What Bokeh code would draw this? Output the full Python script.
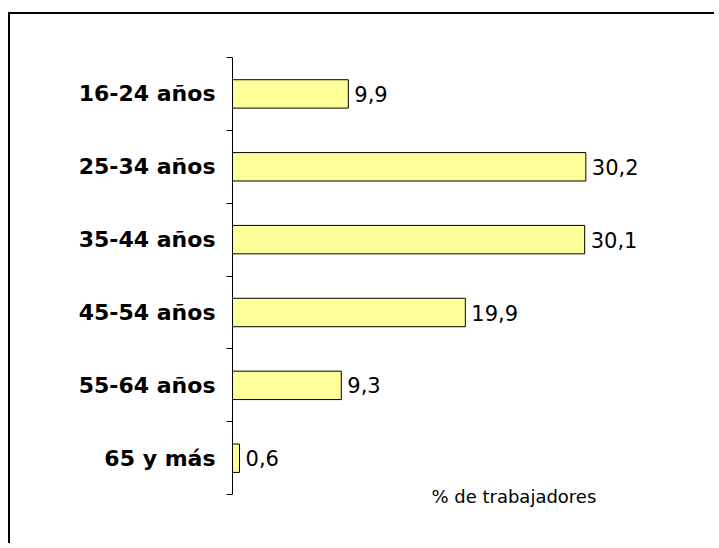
from bokeh.plotting import figure
from bokeh.models import Range1d, FixedTicker, Label
from bokeh.core.properties import value
from bokeh.embed import file_html
from bokeh.resources import INLINE

categories = ["16-24 años", "25-34 años", "35-44 años", "45-54 años", "55-64 años", "65 y más"]
values = [9.9, 30.2, 30.1, 19.9, 9.3, 0.6]
value_labels = ["9,9", "30,2", "30,1", "19,9", "9,3", "0,6"]
axis_note = "% de trabajadores"

n = len(categories)
ypos = [n - 0.5 - i for i in range(n)]

p = figure(width=706, height=531, output_backend="svg", toolbar_location=None,
           x_range=Range1d(0, 40), y_range=Range1d(-0.3, n),
           min_border_left=222, min_border_top=43, min_border_bottom=29, min_border_right=16,
           styles={"margin-left": "8px", "margin-top": "12px",
                   "border-left": "2px solid black", "border-top": "2px solid black"})
p.outline_line_color = None
p.xgrid.visible = False
p.ygrid.visible = False
p.xaxis.visible = False

p.hbar(y=ypos, right=values, left=0, height=0.39,
       fill_color="#FFFF99", line_color="black", line_width=1)

p.text(x=values, y=ypos, text=value_labels, x_offset=6,
       text_baseline="middle", text_align="left",
       text_font=value("DejaVu Sans"), text_font_size="21px", text_color="black")

ax = p.yaxis[0]
ax.bounds = (0, n)
ax.ticker = FixedTicker(ticks=ypos, minor_ticks=list(range(n + 1)))
ax.major_label_overrides = {y: c for y, c in zip(ypos, categories)}
ax.major_tick_line_color = None
ax.major_tick_out = 0
ax.major_tick_in = 0
ax.minor_tick_line_color = "black"
ax.minor_tick_out = 6
ax.minor_tick_in = 0
ax.axis_line_color = "black"
ax.major_label_standoff = 11
ax.major_label_text_font = "DejaVu Sans"
ax.major_label_text_font_style = "bold"
ax.major_label_text_font_size = "22px"
ax.major_label_text_color = "black"

p.add_layout(Label(x=17.0, y=-0.03, text=axis_note, text_baseline="middle",
                   text_align="left", text_font="DejaVu Sans",
                   text_font_size="18px", text_color="black"))

open("out.html", "w").write(file_html(p, INLINE))
